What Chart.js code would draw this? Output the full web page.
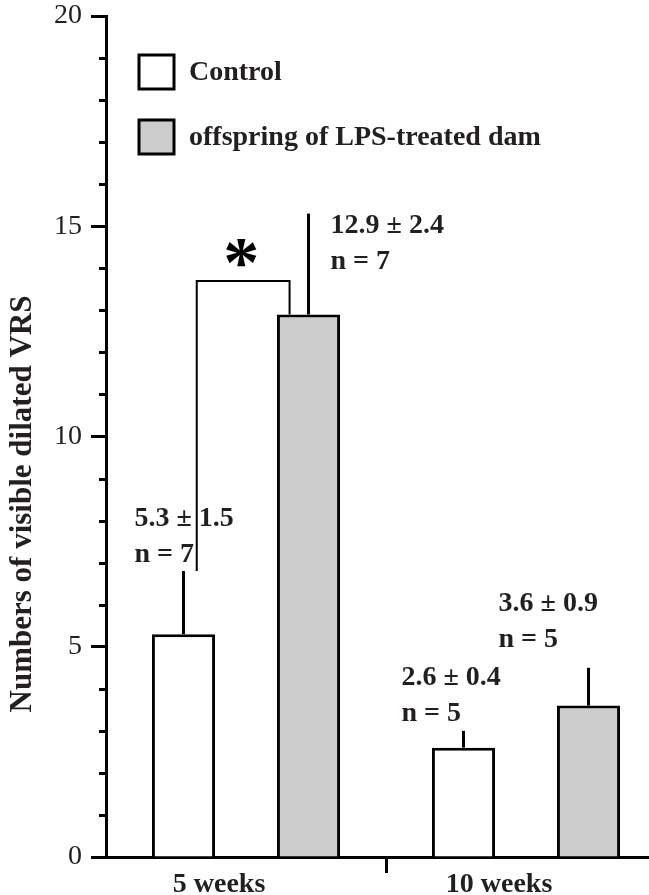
<!DOCTYPE html>
<html>
<head>
<meta charset="utf-8">
<script src="https://cdn.jsdelivr.net/npm/chart.js@4.4.0/dist/chart.umd.min.js"></script>
<style>
  html, body { margin: 0; padding: 0; background: #fff; overflow: hidden; }
  #wrap { width: 649px; height: 895px; overflow: hidden; }
  canvas { display: block; }
</style>
</head>
<body>
<div id="wrap"><canvas id="myChart" width="670" height="895"></canvas></div>
<script>
const SERIF = "'Liberation Serif', 'Times New Roman', serif";
const INK = "#231f20";

// data
const categories = ["5 weeks", "10 weeks"];
const seriesNames = ["Control", "offspring of LPS-treated dam"];
const control = [5.3, 2.6];
const controlErr = [1.5, 0.4];
const controlN = [7, 5];
const lps = [12.9, 3.6];
const lpsErr = [2.4, 0.9];
const lpsN = [7, 5];
const yTicks = [0, 5, 10, 15, 20];
const sigTop = 13.7; // height of the * bracket
const yTitle = "Numbers of visible dilated VRS";

// where the "mean ± sd / n" notes sit, relative to the top of each error bar (px)
const noteOffsets = [
  [{ dx: -49, dy: -52 }, { dx: -62, dy: -53 }],
  [{ dx: 22, dy: 12 }, { dx: -90, dy: -64 }],
];

function line(ctx, x1, y1, x2, y2, w) {
  ctx.lineWidth = w;
  ctx.beginPath();
  ctx.moveTo(x1, y1);
  ctx.lineTo(x2, y2);
  ctx.stroke();
}

const annotate = {
  id: "annotate",
  afterDatasetsDraw(chart) {
    const { ctx, chartArea, scales: { y } } = chart;
    ctx.save();
    ctx.strokeStyle = "#000";
    ctx.lineCap = "butt";

    // minor ticks on y
    for (let v = 1; v < 20; v++) {
      if (yTicks.includes(v)) continue;
      const py = Math.round(y.getPixelForValue(v)) + 0.5;
      line(ctx, chartArea.left - 7, py, chartArea.left, py, 3);
    }

    // error bars (only upward) and notes
    ctx.fillStyle = INK;
    ctx.font = "bold 28px " + SERIF;
    ctx.textAlign = "left";
    ctx.textBaseline = "middle";
    chart.data.datasets.forEach((ds, di) => {
      const meta = chart.getDatasetMeta(di);
      meta.data.forEach((bar, i) => {
        const v = ds.data[i];
        const e = ds.err[i];
        const topPx = y.getPixelForValue(v + e);
        line(ctx, bar.x, bar.y, bar.x, topPx, 3);
        const o = noteOffsets[di][i];
        const tx = bar.x + o.dx;
        const ty = topPx + o.dy;
        ctx.fillText(v.toFixed(1) + " \u00b1 " + e.toFixed(1), tx, ty);
        ctx.fillText("n = " + ds.n[i], tx, ty + 36);
      });
    });

    // significance bracket 5 weeks
    const c5 = chart.getDatasetMeta(0).data[0];
    const l5 = chart.getDatasetMeta(1).data[0];
    const lx = c5.x + c5.width * 0.21;
    const rx = l5.x - l5.width * 0.3;
    const ty = y.getPixelForValue(sigTop);
    const lb = y.getPixelForValue(control[0] + controlErr[0]);
    ctx.lineWidth = 2;
    ctx.beginPath();
    ctx.moveTo(lx, lb);
    ctx.lineTo(lx, ty);
    ctx.lineTo(rx, ty);
    ctx.lineTo(rx, l5.y);
    ctx.stroke();

    ctx.font = "bold 72px " + SERIF;
    ctx.textAlign = "center";
    ctx.textBaseline = "alphabetic";
    const m = ctx.measureText("*");
    const h = m.actualBoundingBoxAscent + m.actualBoundingBoxDescent;
    ctx.fillStyle = "#000";
    ctx.fillText("*", (lx + rx) / 2 - 2, ty - 28 + h / 2 - m.actualBoundingBoxDescent);

    // legend
    const fills = chart.data.datasets.map((d) => d.backgroundColor);
    ctx.textAlign = "left";
    ctx.textBaseline = "middle";
    ctx.font = "bold 28px " + SERIF;
    seriesNames.forEach((name, k) => {
      const bx = chartArea.left + 33;
      const by = chartArea.top + 39 + k * 65;
      ctx.fillStyle = fills[k];
      ctx.fillRect(bx, by, 35, 34);
      ctx.lineWidth = 3;
      ctx.strokeStyle = "#000";
      ctx.strokeRect(bx, by, 35, 34);
      ctx.fillStyle = INK;
      ctx.fillText(name, bx + 50, by + 18);
    });

    // y axis title
    ctx.save();
    ctx.translate(23, 504);
    ctx.rotate(-Math.PI / 2);
    ctx.textAlign = "center";
    ctx.textBaseline = "middle";
    ctx.font = "bold 31px " + SERIF;
    ctx.fillStyle = INK;
    ctx.fillText(yTitle, 0, 0);
    ctx.restore();

    ctx.restore();
  },
};

const ctx = document.getElementById("myChart").getContext("2d");

const myChart = new Chart(ctx, {
  type: "bar",
  data: {
    labels: categories,
    datasets: [
      {
        label: seriesNames[0],
        data: control,
        err: controlErr,
        n: controlN,
        backgroundColor: "#ffffff",
        borderColor: "#000000",
        borderWidth: 3,
      },
      {
        label: seriesNames[1],
        data: lps,
        err: lpsErr,
        n: lpsN,
        backgroundColor: "#cccccc",
        borderColor: "#000000",
        borderWidth: 3,
      },
    ],
  },
  options: {
    responsive: false,
    animation: false,
    layout: { padding: { top: 16, right: 4, left: 0, bottom: 0 } },
    datasets: { bar: { categoryPercentage: 0.893, barPercentage: 0.505 } },
    plugins: { legend: { display: false }, tooltip: { enabled: false } },
    scales: {
      x: {
        grid: {
          drawOnChartArea: false,
          offset: true,
          tickLength: 16,
          tickWidth: 3,
          tickColor: (c) => (c.index === 1 ? "#000" : "rgba(0,0,0,0)"),
        },
        border: { color: "#000", width: 3 },
        ticks: {
          color: INK,
          font: { family: SERIF, size: 28, weight: "bold" },
          labelOffset: -27,
          padding: -5,
        },
        afterFit: (s) => { s.height = 38; },
      },
      y: {
        min: 0,
        max: 20,
        ticks: {
          stepSize: 1,
          autoSkip: false,
          padding: 9,
          color: INK,
          font: { family: SERIF, size: 28 },
          callback: (v) => (yTicks.includes(v) ? String(v) : ""),
        },
        grid: {
          drawOnChartArea: false,
          tickLength: 15,
          tickWidth: 3,
          tickColor: (c) => (c.tick && yTicks.includes(c.tick.value) ? "#000" : "rgba(0,0,0,0)"),
        },
        border: { color: "#000", width: 3 },
        afterFit: (s) => {
          s.width = 106;
          s.paddingTop = 0;
          s.paddingBottom = 0;
        },
      },
    },
  },
  plugins: [annotate],
});
</script>
</body>
</html>
